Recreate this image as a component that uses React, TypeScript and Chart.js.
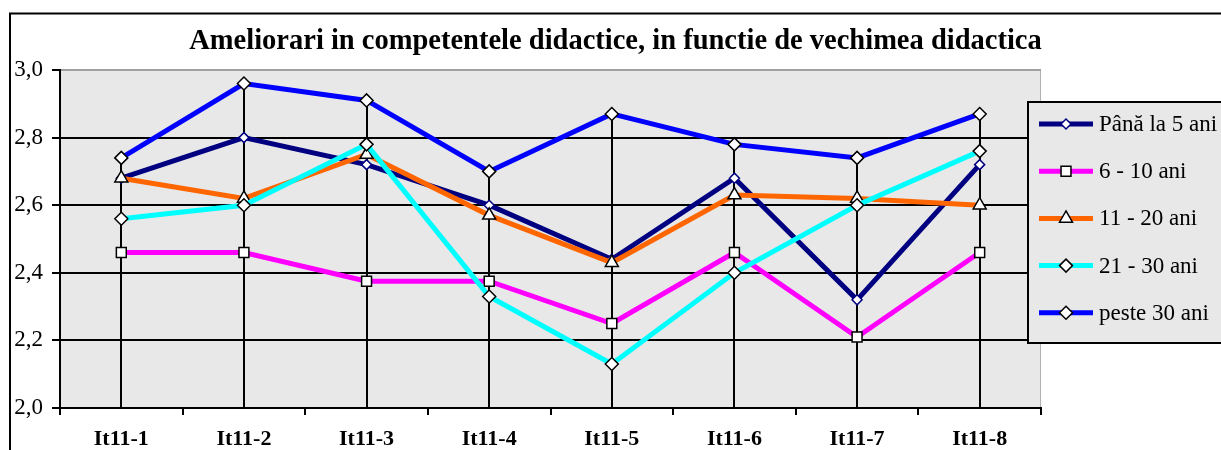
import React, { useEffect, useRef } from 'react';
import { Chart, registerables } from 'chart.js';

Chart.register(...registerables);

const TITLE = 'Ameliorari in competentele didactice, in functie de vechimea didactica';
const categories = ['It11-1', 'It11-2', 'It11-3', 'It11-4', 'It11-5', 'It11-6', 'It11-7', 'It11-8'];
const seriesNames = ['Până la 5 ani', '6 - 10 ani', '11 - 20 ani', '21 - 30 ani', 'peste 30 ani'];
const upTo5 = [2.68, 2.80, 2.72, 2.60, 2.44, 2.68, 2.32, 2.72];
const from6to10 = [2.46, 2.46, 2.375, 2.375, 2.25, 2.46, 2.21, 2.46];
const from11to20 = [2.68, 2.62, 2.75, 2.57, 2.43, 2.63, 2.62, 2.60];
const from21to30 = [2.56, 2.60, 2.78, 2.33, 2.13, 2.40, 2.60, 2.76];
const over30 = [2.74, 2.96, 2.91, 2.70, 2.87, 2.78, 2.74, 2.87];
const seriesValues = [upTo5, from6to10, from11to20, from21to30, over30];
const yMin = 2.0;
const yMax = 3.0;
const yStep = 0.2;

const colors = ['#000080', '#ff00ff', '#ff6600', '#00ffff', '#0000ff'];
const markers = ['rectRot', 'rect', 'triangle', 'rectRot', 'rectRot'];
const markerBorders = ['#000080', '#000000', '#000000', '#000000', '#000000'];
const markerRadii = [5, 7, 7.5, 6.5, 6.5];

const SERIF = "'Liberation Serif', 'Times New Roman', serif";
const PLOT_BG = '#e8e8e8';

function drawMarker(ctx: CanvasRenderingContext2D, style: string, x: number, y: number, r: number, border: string) {
  ctx.save();
  ctx.beginPath();
  if (style === 'rectRot') {
    ctx.moveTo(x - r, y);
    ctx.lineTo(x, y - r);
    ctx.lineTo(x + r, y);
    ctx.lineTo(x, y + r);
    ctx.closePath();
  } else if (style === 'rect') {
    const s = Math.SQRT1_2 * r;
    ctx.rect(x - s, y - s, 2 * s, 2 * s);
  } else {
    const a = (2 * Math.PI) / 3;
    ctx.moveTo(x, y - r);
    ctx.lineTo(x + Math.sin(a) * r, y - Math.cos(a) * r);
    ctx.lineTo(x + Math.sin(2 * a) * r, y - Math.cos(2 * a) * r);
    ctx.closePath();
  }
  ctx.fillStyle = '#ffffff';
  ctx.fill();
  ctx.lineWidth = 1.5;
  ctx.strokeStyle = border;
  ctx.stroke();
  ctx.restore();
}

const framePlugin = {
  id: 'framePlugin',
  beforeDraw(chart: any) {
    const { ctx, chartArea } = chart;
    ctx.save();
    ctx.fillStyle = '#ffffff';
    ctx.fillRect(0, 0, chart.width, chart.height);
    ctx.fillStyle = PLOT_BG;
    ctx.fillRect(chartArea.left, chartArea.top, chartArea.right - chartArea.left, chartArea.bottom - chartArea.top);
    ctx.strokeStyle = '#b0b0b0';
    ctx.lineWidth = 1;
    ctx.beginPath();
    ctx.moveTo(chartArea.right - 0.5, chartArea.top);
    ctx.lineTo(chartArea.right - 0.5, chartArea.bottom);
    ctx.stroke();
    // outer chart frame
    ctx.strokeStyle = '#000000';
    ctx.lineWidth = 2;
    ctx.strokeRect(10, 13.5, chart.width + 40, chart.height + 40);
    // title
    ctx.fillStyle = '#000000';
    ctx.font = `bold 28.5px ${SERIF}`;
    ctx.textAlign = 'center';
    ctx.textBaseline = 'alphabetic';
    ctx.fillText(TITLE, 615.5, 48.5);
    ctx.restore();
  },
  beforeDatasetsDraw(chart: any) {
    const { ctx, chartArea, scales } = chart;
    const xs = scales.x;
    const ys = scales.y;
    ctx.save();
    ctx.strokeStyle = '#000000';
    ctx.lineWidth = 2;
    for (let i = 0; i < categories.length; i++) {
      let top = -Infinity;
      for (const s of seriesValues) top = Math.max(top, s[i]);
      const x = Math.round(xs.getPixelForValue(i));
      ctx.beginPath();
      ctx.moveTo(x, ys.getPixelForValue(top));
      ctx.lineTo(x, chartArea.bottom);
      ctx.stroke();
    }
    ctx.restore();
  },
  afterDraw(chart: any) {
    const { ctx } = chart;
    ctx.save();
    const lx = 1028;
    const ly = 102;
    const lh = 241;
    ctx.fillStyle = PLOT_BG;
    ctx.fillRect(lx, ly, chart.width - lx + 20, lh);
    ctx.strokeStyle = '#000000';
    ctx.lineWidth = 2;
    ctx.strokeRect(lx, ly, chart.width - lx + 20, lh);
    ctx.font = `23px ${SERIF}`;
    ctx.textAlign = 'left';
    ctx.textBaseline = 'middle';
    for (let i = 0; i < seriesNames.length; i++) {
      const y = 124 + i * 47.2;
      ctx.strokeStyle = colors[i];
      ctx.lineWidth = 5;
      ctx.beginPath();
      ctx.moveTo(1039, y);
      ctx.lineTo(1093, y);
      ctx.stroke();
      drawMarker(ctx, markers[i], 1066, y, markerRadii[i], markerBorders[i]);
      ctx.fillStyle = '#000000';
      ctx.fillText(seriesNames[i], 1099, y + 1);
    }
    ctx.restore();
  },
};

export default function App() {
  const ref = useRef<HTMLCanvasElement | null>(null);
  useEffect(() => {
    if (!ref.current) return;
    const n = seriesNames.length;
    const chart = new Chart(ref.current, {
      type: 'line',
      data: {
        labels: categories,
        datasets: seriesNames.map((name, i) => ({
          label: name,
          data: seriesValues[i],
          borderColor: colors[i],
          backgroundColor: '#ffffff',
          borderWidth: 5,
          pointStyle: markers[i] as any,
          pointRadius: markerRadii[i],
          pointBorderColor: markerBorders[i],
          pointBackgroundColor: '#ffffff',
          pointBorderWidth: 1.5,
          tension: 0,
          fill: false,
          order: n - 1 - i,
        })),
      },
      options: {
        responsive: false,
        animation: false,
        devicePixelRatio: 1,
        layout: { padding: { left: 0, top: 70, right: 180, bottom: 0 } },
        plugins: {
          legend: { display: false },
          title: { display: false },
          tooltip: { enabled: false },
        },
        scales: {
          x: {
            type: 'category',
            offset: true,
            grid: {
              offset: true,
              drawOnChartArea: false,
              drawTicks: true,
              tickLength: 7,
              color: '#000000',
              lineWidth: 2,
            },
            border: { color: '#000000', width: 2 },
            ticks: {
              color: '#000000',
              font: { family: SERIF, size: 22, weight: 'bold' },
              padding: 11,
              maxRotation: 0,
              autoSkip: false,
            },
            afterFit(scale: any) {
              scale.height = 42;
            },
          },
          y: {
            min: yMin,
            max: yMax,
            grid: {
              color: (c: any) => (Math.abs(c.tick.value - yMax) < 1e-6 ? '#a0a0a0' : '#000000'),
              tickColor: '#000000',
              lineWidth: 2,
              tickLength: 8,
              drawTicks: true,
            },
            border: { color: '#000000', width: 2 },
            ticks: {
              stepSize: yStep,
              color: '#000000',
              font: { family: SERIF, size: 23 },
              padding: 9,
              callback: (v: any) => Number(v).toFixed(1).replace('.', ','),
            },
            afterFit(scale: any) {
              scale.width = 60;
            },
          },
        },
      },
      plugins: [framePlugin],
    });
    return () => chart.destroy();
  }, []);
  return (
    <div style={{ position: 'absolute', left: 0, top: 0, width: 1221, height: 450 }}>
      <canvas ref={ref} width={1221} height={450} style={{ width: '1221px', height: '450px', display: 'block' }} />
    </div>
  );
}
